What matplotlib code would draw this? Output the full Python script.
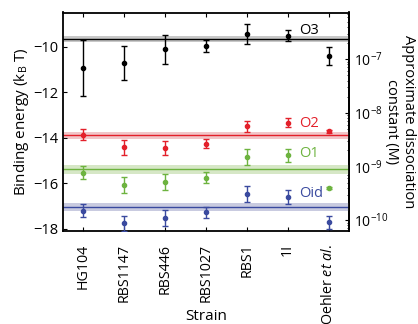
import numpy as np
import matplotlib
matplotlib.use("Agg")
import matplotlib.pyplot as plt

plt.rcParams['font.family'] = ['Open Sans', 'DejaVu Sans']
plt.rcParams['mathtext.fontset'] = 'custom'
plt.rcParams['mathtext.rm'] = 'Open Sans'
plt.rcParams['mathtext.it'] = 'Open Sans:italic'

strains = ["HG104", "RBS1147", "RBS446", "RBS1027", "RBS1", "1I", "Oehler $\\it{et\\ al.}$"]
operators = ["O3", "O2", "O1", "Oid"]

O3_vals = [-10.94, -10.72, -10.12, -9.97, -9.43, -9.52, -10.40]
O3_err = [1.25, 0.76, 0.64, 0.25, 0.44, 0.25, 0.39]
O2_vals = [-13.87, -14.41, -14.44, -14.26, -13.50, -13.34, -13.72]
O2_err = [0.24, 0.33, 0.31, 0.20, 0.23, 0.20, 0.06]
O1_vals = [-15.53, -16.07, -15.96, -15.76, -14.84, -14.78, -16.21]
O1_err = [0.27, 0.36, 0.35, 0.25, 0.35, 0.30, 0.06]
Oid_vals = [-17.20, -17.77, -17.53, -17.28, -16.48, -16.61, -17.72]
Oid_err = [0.27, 0.33, 0.37, 0.24, 0.34, 0.29, 0.29]

ref_vals = [-9.68, -13.89, -15.38, -17.03]
ref_err = [0.13, 0.16, 0.20, 0.18]
label_y = [-9.28, -13.36, -14.69, -16.45]

colors = ["#000000", "#e3202a", "#6db33f", "#3a4a9f"]
band_colors = ["#c8c8c8", "#f1c6c9", "#d6e7c6", "#c9cbe0"]

series = [(O3_vals, O3_err), (O2_vals, O2_err), (O1_vals, O1_err), (Oid_vals, Oid_err)]

fig = plt.figure(figsize=(4.18, 3.24), dpi=100)
ax = fig.add_axes([63/418, 1 - 231/324, (349-63)/418, (231-12.5)/324])

x = np.arange(len(strains))
xlim = (-0.5, 6.5)
for (vals, errs), c, bc, rv, re_, name, ly in zip(series, colors, band_colors, ref_vals, ref_err, operators, label_y):
    ax.axhspan(rv - re_, rv + re_, color=bc, lw=0, zorder=1)
    ax.axhline(rv, color=c, lw=1.0, zorder=2)
    ax.errorbar(x, vals, yerr=errs, fmt='o', color=c, ms=3, lw=1.0, capsize=2.2, capthick=1.0, zorder=3)
    ax.text(5.27, ly, name, color=c, fontsize=10.5, ha='left', va='center', zorder=4)

ax.set_xlim(*xlim)
ax.set_ylim(-18.1, -8.5)
ax.set_xticks(x)
ax.set_xticklabels(strains, rotation=90, fontsize=10.3)
ax.set_yticks([-10, -12, -14, -16, -18])
ax.set_yticklabels(["\u221210", "\u221212", "\u221214", "\u221216", "\u221218"], fontsize=10.5)
ax.tick_params(axis='both', direction='in', length=3, width=0.8, top=True)
ax.tick_params(axis='x', pad=9)
ax.tick_params(axis='y', right=False, pad=3)
for s in ax.spines.values():
    s.set_linewidth(1.3)
ax.set_xlabel("Strain", fontsize=11, va='center')
ax.xaxis.set_label_coords(0.5, -(316 - 231) / 218.5)
ax.set_ylabel("Binding energy (k$_\\mathregular{B}$ T)", fontsize=11, labelpad=2)

# secondary axis: approximate dissociation constant
E0 = -14.086
dec = 2.357
def e2k(e):
    return 10 ** (-8.5 + (np.asarray(e) - E0) / dec)
def k2e(k):
    return E0 + (np.log10(np.asarray(k)) + 8.5) * dec

ax2 = ax.secondary_yaxis('right', functions=(e2k, k2e))
ax2.set_yscale('log')
ax2.set_yticks([1e-7, 1e-8, 1e-9, 1e-10])
ax2.tick_params(axis='y', which='major', direction='in', length=3, width=0.8, labelsize=10)
ax2.tick_params(axis='y', which='minor', direction='in', length=1.8, width=0.6)
ax2.spines['right'].set_linewidth(1.3)
ax2.set_ylabel("Approximate dissociation\nconstant (M)", rotation=270, fontsize=10.5, labelpad=20, linespacing=1.15)

fig.savefig("out.png", dpi=100)
